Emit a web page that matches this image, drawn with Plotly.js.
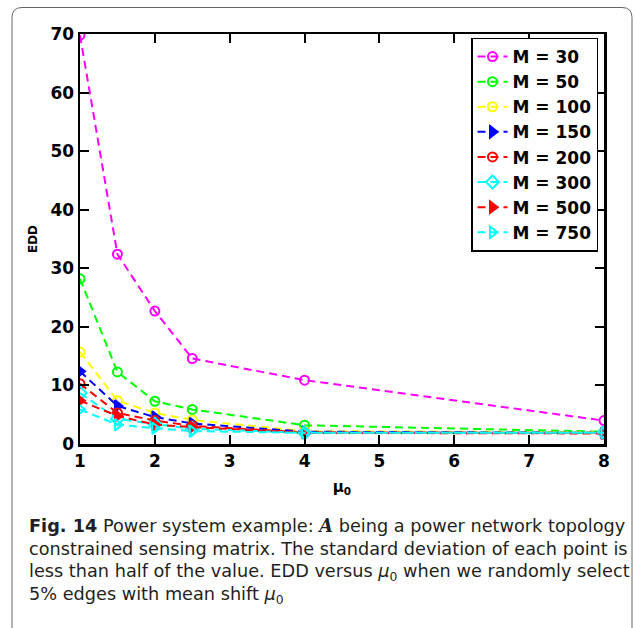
<!DOCTYPE html>
<html>
<head>
<meta charset="utf-8">
<script src="https://cdn.plot.ly/plotly-3.0.1.min.js"></script>
<style>html,body{margin:0;padding:0;background:#fff;}#chart{width:636px;height:628px;}</style>
</head>
<body>
<div id="chart"></div>
<script>
const mu0 = [1, 1.5, 2, 2.5, 4, 8];
const seriesNames = ["M = 30", "M = 50", "M = 100", "M = 150", "M = 200", "M = 300", "M = 500", "M = 750"];
const edd_M30  = [69.8, 32.4, 22.7, 14.6, 10.9, 4.0];
const edd_M50  = [28.2, 12.3, 7.3, 5.9, 3.2, 2.1];
const edd_M100 = [15.7, 7.4, 5.3, 4.1, 2.2, 2.0];
const edd_M150 = [12.4, 6.5, 4.6, 3.5, 2.1, 1.9];
const edd_M200 = [10.3, 5.3, 4.0, 3.1, 2.0, 1.9];
const edd_M300 = [8.7, 4.3, 3.4, 2.6, 1.9, 1.9];
const edd_M500 = [7.4, 4.8, 3.3, 2.9, 1.9, 1.8];
const edd_M750 = [5.9, 3.3, 2.7, 2.2, 1.9, 1.9];
const xTicks = [1, 2, 3, 4, 5, 6, 7, 8];
const yTicks = [0, 10, 20, 30, 40, 50, 60, 70];
const captionLines = [
  "<b>Fig. 14</b> Power system example: <span style=\"font-family:'DejaVu Serif'\"><b><i>A</i></b></span> being a power network topology",
  "constrained sensing matrix. The standard deviation of each point is",
  "less than half of the value. EDD versus <i>μ</i><sub>0</sub> when we randomly select",
  "5% edges with mean shift <i>μ</i><sub>0</sub>"
];

const allY = [edd_M30, edd_M50, edd_M100, edd_M150, edd_M200, edd_M300, edd_M500, edd_M750];
const colors = ["#ff00ff", "#00ff00", "#ffff00", "#0000ff", "#ff0000", "#00ffff", "#ff0000", "#00ffff"];
const symbols = ["circle-open", "circle-open", "circle-open", "triangle-right", "circle-open", "diamond-open", "triangle-right", "triangle-right-open"];

const traces = allY.map((ys, i) => ({
  x: mu0, y: ys, name: seriesNames[i], type: "scatter", mode: "lines+markers",
  line: {color: colors[i], width: 2, dash: "8px,5px"},
  marker: {symbol: symbols[i], color: colors[i], size: symbols[i].startsWith("circle") ? 9 : 10, line: {color: colors[i], width: 2}}
}));

// frame geometry in paper coords (plot area 524 x 410 px)
const W = 524, H = 410;
const fx0 = (12 - 80) / W, fx1 = (632 - 80) / W, fy1 = (444.5 - 8) / H, fy0 = (444.5 - 660) / H;
const rx = 10 / W, ry = 10 / H;
const framePath = `M ${fx0} ${fy0} L ${fx0} ${fy1 - ry} Q ${fx0} ${fy1} ${fx0 + rx} ${fy1} L ${fx1 - rx} ${fy1} Q ${fx1} ${fy1} ${fx1} ${fy1 - ry} L ${fx1} ${fy0}`;

const lineCenters = [526, 549.5, 572.5, 595.5];
const annotations = captionLines.map((t, i) => ({
  text: t, xref: "paper", yref: "paper", x: (27 - 80) / W, y: (444.5 - lineCenters[i]) / H,
  xanchor: "left", yanchor: "middle", showarrow: false,
  font: {family: "DejaVu Sans", size: 17.7, color: "#231f20"}
}));

const axisCommon = {
  showline: true, linecolor: "#000", linewidth: 2.5, mirror: "allticks",
  ticks: "inside", ticklen: 9, tickwidth: 2, tickcolor: "#000",
  showgrid: false, zeroline: false,
  tickfont: {family: "DejaVu Sans", size: 17, color: "#000", weight: "bold"}
};

const layout = {
  width: 636, height: 628,
  margin: {l: 80, r: 32, t: 34, b: 183.5},
  paper_bgcolor: "#fff", plot_bgcolor: "#fff",
  showlegend: true,
  xaxis: Object.assign({}, axisCommon, {
    range: [1, 8], tickvals: xTicks, ticktext: xTicks.map(String),
    title: {text: "μ<sub>0</sub>", font: {family: "DejaVu Sans", size: 15, color: "#000", weight: "bold"}, standoff: 12}
  }),
  yaxis: Object.assign({}, axisCommon, {
    range: [0, 70], tickvals: yTicks, ticktext: yTicks.map(String),
    title: {text: "EDD", font: {family: "DejaVu Sans", size: 12, color: "#000", weight: "bold"}, standoff: 10}
  }),
  legend: {
    x: (598 - 80) / W, y: (444.5 - 38) / H, xanchor: "right", yanchor: "top",
    bgcolor: "#fff", bordercolor: "#000", borderwidth: 1.5,
    font: {family: "DejaVu Sans", size: 17, color: "#000", weight: "bold"},
    tracegroupgap: 0, itemwidth: 30
  },
  shapes: [{type: "path", xref: "paper", yref: "paper", path: framePath, line: {color: "#666", width: 1}, layer: "below"}],
  annotations: annotations
};

Plotly.newPlot("chart", traces, layout, {displayModeBar: false, staticPlot: true});
</script>
</body>
</html>
